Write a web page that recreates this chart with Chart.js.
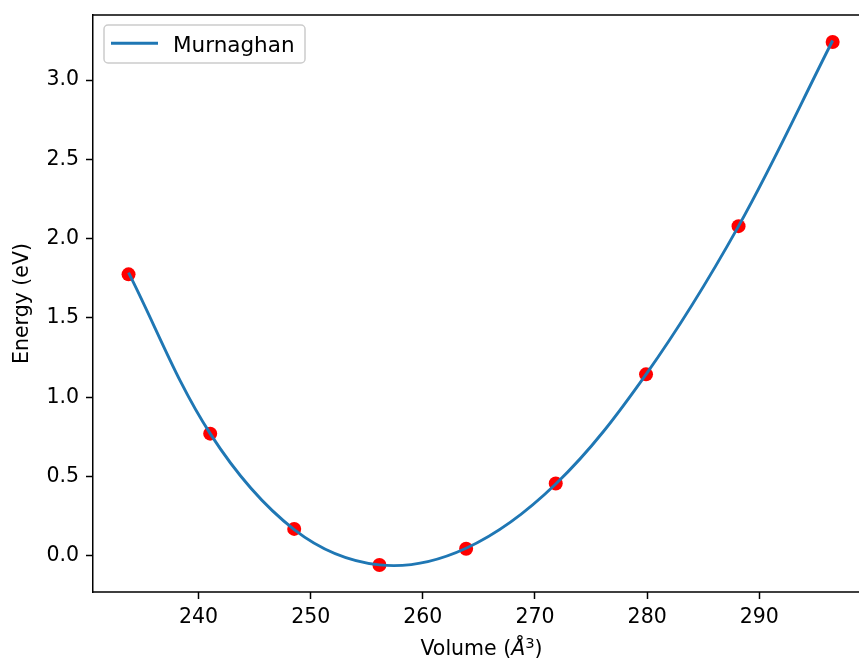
<!DOCTYPE html>
<html>
<head>
<meta charset="utf-8">
<script src="https://cdn.jsdelivr.net/npm/chart.js@4.4.0/dist/chart.umd.min.js"></script>
<style>
  html, body { margin: 0; padding: 0; overflow: hidden; background: #fff; }
  #chart { display: block; }
</style>
</head>
<body>
<canvas id="chart" width="859" height="662"></canvas>
<script>
// computed points (volume in A^3, energy in eV)
const volumes = [233.76, 241.04, 248.53, 256.13, 263.86, 271.85, 279.90, 288.15, 296.54];
const energies = [1.775, 0.770, 0.169, -0.059, 0.044, 0.455, 1.144, 2.079, 3.241];

// Murnaghan fit at the same volumes
const fitVolumes = [233.76, 241.04, 248.53, 256.13, 263.86, 271.85, 279.90, 288.15, 296.54];
const fitEnergies = [1.786, 0.770, 0.165, -0.058, 0.047, 0.452, 1.144, 2.079, 3.250];

const xTicks = [240, 250, 260, 270, 280, 290];
const yTicks = [0.0, 0.5, 1.0, 1.5, 2.0, 2.5, 3.0];

// full x range of the axes; its right end lies past the picture edge
const X_MIN = 230.59, X_MAX = 299.87;
const AXES_RIGHT = 870;

const FONT = 'DejaVu Sans';
const FS = 20.5;
const LEGEND_FS = 21.5;

// top spine and the bottom axis line, both run on to the picture edge
const spines = {
  id: 'spines',
  afterDatasetsDraw(chart) {
    const { ctx, chartArea: a, width } = chart;
    ctx.save();
    ctx.strokeStyle = '#000';
    ctx.lineWidth = 1.5;
    ctx.beginPath();
    ctx.moveTo(a.left - 0.75, a.top);
    ctx.lineTo(width, a.top);
    ctx.moveTo(a.left - 0.75, a.bottom);
    ctx.lineTo(width, a.bottom);
    ctx.stroke();
    ctx.restore();
  }
};

// x label with the italic Angstrom and the raised 3, centred on the full axes
const xTitle = {
  id: 'xTitle',
  afterDraw(chart) {
    const { ctx, chartArea: a } = chart;
    const parts = [
      { t: 'Volume (', f: FS + 'px "' + FONT + '"', dy: 0 },
      { t: 'Å', f: 'italic ' + FS + 'px "' + FONT + '"', dy: 0 },
      { t: '3', f: (FS * 0.72) + 'px "' + FONT + '"', dy: -7 },
      { t: ')', f: FS + 'px "' + FONT + '"', dy: 0 }
    ];
    ctx.save();
    ctx.fillStyle = '#000';
    ctx.textBaseline = 'alphabetic';
    let total = 0;
    parts.forEach(p => { ctx.font = p.f; p.w = ctx.measureText(p.t).width; total += p.w; });
    const cx = (a.left + AXES_RIGHT) / 2;
    let x = cx - total / 2;
    const y = 655;
    parts.forEach(p => { ctx.font = p.f; ctx.fillText(p.t, x, y + p.dy); x += p.w; });
    ctx.restore();
  }
};

// legend box in the upper left corner of the axes
const boxLegend = {
  id: 'boxLegend',
  afterDraw(chart) {
    const { ctx, chartArea: a } = chart;
    const ds = chart.data.datasets[0];
    const x0 = a.left + 11, y0 = a.top + 10, w = 201, h = 38;
    ctx.save();
    ctx.beginPath();
    if (ctx.roundRect) ctx.roundRect(x0, y0, w, h, 4); else ctx.rect(x0, y0, w, h);
    ctx.fillStyle = 'rgba(255,255,255,0.8)';
    ctx.fill();
    ctx.strokeStyle = '#cccccc';
    ctx.lineWidth = 1.5;
    ctx.stroke();
    const ly = y0 + 18.3;
    ctx.beginPath();
    ctx.moveTo(x0 + 7, ly);
    ctx.lineTo(x0 + 54, ly);
    ctx.strokeStyle = ds.borderColor;
    ctx.lineWidth = ds.borderWidth;
    ctx.stroke();
    ctx.fillStyle = '#000';
    ctx.font = LEGEND_FS + 'px "' + FONT + '"';
    ctx.textBaseline = 'alphabetic';
    ctx.fillText(ds.label, x0 + 69, ly + 8.3);
    ctx.restore();
  }
};

const fitData = fitVolumes.map((v, i) => ({ x: v, y: fitEnergies[i] }));
const pointData = volumes.map((v, i) => ({ x: v, y: energies[i] }));

const chart = new Chart(document.getElementById('chart'), {
  type: 'scatter',
  data: {
    datasets: [
      {
        type: 'line',
        label: 'Murnaghan',
        data: fitData,
        borderColor: '#1f77b4',
        borderWidth: 2.9,
        pointRadius: 0,
        fill: false,
        tension: 0.35
      },
      {
        label: 'data',
        data: pointData,
        pointRadius: 7,
        pointHoverRadius: 7,
        backgroundColor: '#ff0000',
        borderWidth: 0
      }
    ]
  },
  options: {
    responsive: false,
    animation: false,
    devicePixelRatio: 1,
    layout: { padding: { top: 15, right: 1, left: 0, bottom: 0 } },
    plugins: {
      legend: { display: false },
      tooltip: { enabled: false }
    },
    scales: {
      x: {
        type: 'linear',
        min: X_MIN,
        max: X_MAX,
        afterBuildTicks: s => { s.ticks = xTicks.map(v => ({ value: v })); },
        afterFit: s => { s.height = 70; s.paddingLeft = 0; s.paddingRight = 0; },
        ticks: {
          font: { family: FONT, size: FS },
          color: '#000',
          padding: 6,
          maxRotation: 0,
          autoSkip: false,
          callback: v => String(v)
        },
        grid: { drawOnChartArea: false, drawTicks: true, tickLength: 7, tickWidth: 1.5, tickColor: '#000' },
        border: { display: false },
        title: { display: false }
      },
      y: {
        min: -0.229,
        max: 3.411,
        afterBuildTicks: s => { s.ticks = yTicks.map(v => ({ value: v })); },
        afterFit: s => { s.width = 93; s.paddingTop = 0; s.paddingBottom = 0; },
        ticks: {
          font: { family: FONT, size: FS },
          color: '#000',
          padding: 7,
          autoSkip: false,
          callback: v => v.toFixed(1)
        },
        grid: { drawOnChartArea: false, drawTicks: true, tickLength: 7, tickWidth: 1.5, tickColor: '#000' },
        border: { display: true, color: '#000', width: 1.5 },
        title: {
          display: true,
          text: 'Energy (eV)',
          color: '#000',
          font: { family: FONT, size: FS },
          padding: { top: 10, bottom: 0 }
        }
      }
    }
  },
  plugins: [spines, xTitle, boxLegend]
});

// the plot area stops at the canvas edge, so cut the x range where it ends
const area = chart.chartArea;
chart.options.scales.x.max = X_MIN + (area.right - area.left) * (X_MAX - X_MIN) / (AXES_RIGHT - area.left);
chart.update();
</script>
</body>
</html>
